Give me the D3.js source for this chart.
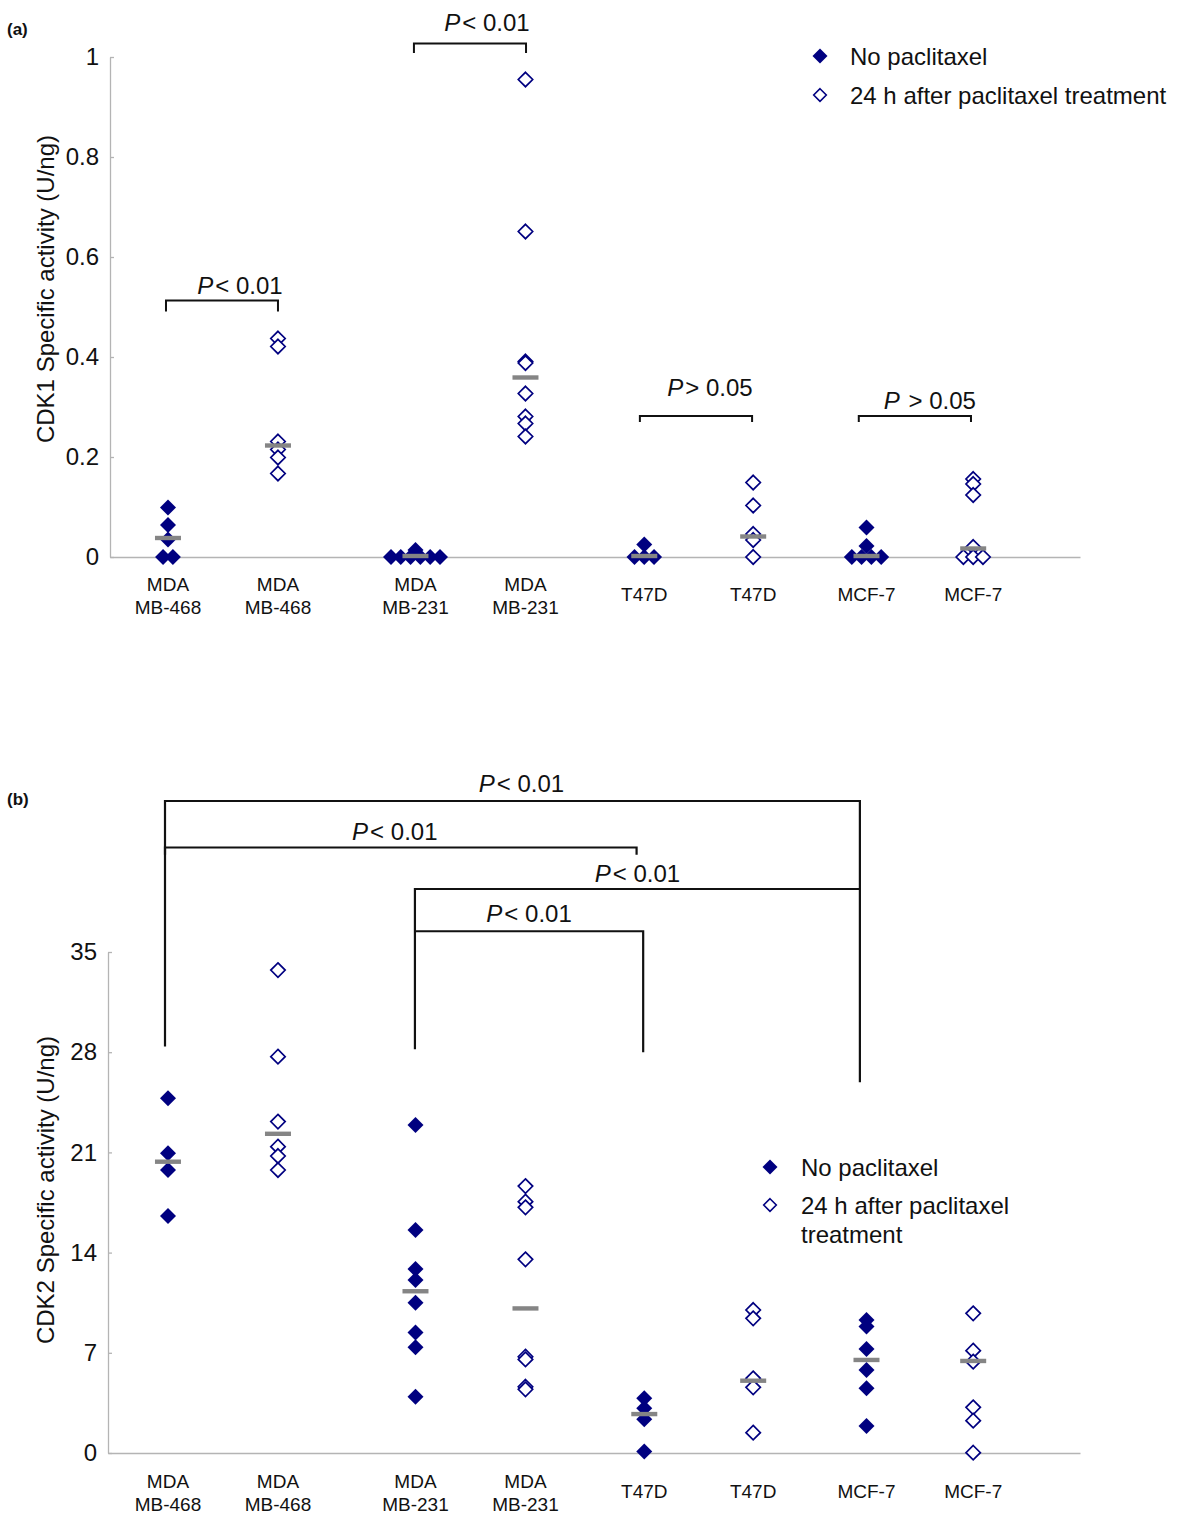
<!DOCTYPE html>
<html>
<head>
<meta charset="utf-8">
<script src="https://cdn.jsdelivr.net/npm/d3@7"></script>
<style>
  html, body { margin: 0; padding: 0; background: #fff; }
  svg { display: block; font-family: "Liberation Sans", Arial, sans-serif; }
</style>
</head>
<body>
<svg id="chart" width="1200" height="1526"></svg>
<script>
// ---------------- DATA ----------------
const categoryLines = [
  ["MDA", "MB-468"], ["MDA", "MB-468"],
  ["MDA", "MB-231"], ["MDA", "MB-231"],
  ["T47D"], ["T47D"],
  ["MCF-7"], ["MCF-7"]
];
const categoryPos = [1, 2, 3.25, 4.25, 5.33, 6.32, 7.35, 8.32];
const categoryTreated = [false, true, false, true, false, true, false, true];

// Panel (a): CDK1 specific activity (U/ng)
const cdk1Values = [
  [0.099, 0.064, 0.035, 0, 0],
  [0.437, 0.421, 0.231, 0.215, 0.199, 0.167],
  [0.014, 0, 0, 0, 0, 0, 0],
  [0.955, 0.651, 0.391, 0.388, 0.327, 0.281, 0.267, 0.241],
  [0.025, 0, 0, 0],
  [0.149, 0.103, 0.046, 0.034, 0],
  [0.059, 0.022, 0, 0, 0, 0],
  [0.156, 0.146, 0.124, 0.02, 0, 0, 0]
];
const cdk1Medians = [0.038, 0.223, 0.002, 0.359, 0.002, 0.041, 0.002, 0.017];
const cdk1Ticks = [0, 0.2, 0.4, 0.6, 0.8, 1];
const cdk1TickLabels = ["0", "0.2", "0.4", "0.6", "0.8", "1"];

// Panel (b): CDK2 specific activity (U/ng)
const cdk2Values = [
  [24.78, 20.94, 19.77, 16.56],
  [33.74, 27.69, 23.15, 21.4, 20.75, 19.77],
  [22.91, 15.58, 12.85, 12.09, 10.5, 8.41, 7.38, 3.93],
  [18.65, 17.56, 17.16, 13.53, 6.73, 6.54, 4.63, 4.45],
  [3.82, 3.12, 2.35, 0.1],
  [9.99, 9.41, 5.22, 4.59, 1.42],
  [9.29, 8.83, 7.27, 5.8, 4.52, 1.89],
  [9.76, 7.15, 6.38, 3.19, 2.26, 0.02]
];
const cdk2Medians = [20.35, 22.3, 11.3, 10.1, 2.72, 5.05, 6.5, 6.43];
const cdk2Ticks = [0, 7, 14, 21, 28, 35];
const cdk2TickLabels = ["0", "7", "14", "21", "28", "35"];

const legendLabels = ["No paclitaxel", "24 h after paclitaxel treatment"];

// significance brackets: x in category-axis units, y in data units
const cdk1Brackets = [
  { x1: 0.982, x2: 2.0, top: 0.513, leg1: 0.491, leg2: 0.491, rel: "<", p: "0.01", dx: 18, dy: -7 },
  { x1: 3.236, x2: 4.255, top: 1.027, leg1: 1.008, leg2: 1.008, rel: "<", p: "0.01", dx: 17, dy: -13 },
  { x1: 5.29, x2: 6.31, top: 0.282, leg1: 0.27, leg2: 0.27, rel: ">", p: "0.05", dx: 14, dy: -20 },
  { x1: 7.28, x2: 8.30, top: 0.282, leg1: 0.27, leg2: 0.27, rel: "\u00a0>", p: "0.05", dx: 15, dy: -7 }
];
const cdk2Brackets = [
  { x1: 0.973, x2: 7.29, top: 45.55, leg1: 28.4, leg2: 25.9, rel: "<", p: "0.01", dx: 9, dy: -9 },
  { x1: 0.973, x2: 5.26, top: 42.3, leg1: 41.8, leg2: 41.8, rel: "<", p: "0.01", dx: -6, dy: -8 },
  { x1: 3.245, x2: 7.29, top: 39.4, leg1: 28.2, leg2: 39.4, rel: "<", p: "0.01", dx: 0, dy: -7 },
  { x1: 3.245, x2: 5.32, top: 36.45, leg1: 36.45, leg2: 28.0, rel: "<", p: "0.01", dx: 0, dy: -9 }
];

// ---------------- DRAWING ----------------
const svg = d3.select("#chart");
const NAVY = "#000080";
const FONT = "'Liberation Sans', Arial, sans-serif";

const xScale = d3.scaleLinear().domain([0.473, 9.291]).range([110, 1080]);

function diamond(r) {
  return `M0,${-r}L${r},0L0,${r}L${-r},0Z`;
}

function drawPanel(cfg) {
  const g = svg.append("g");
  const y = d3.scaleLinear().domain(cfg.yDomain).range(cfg.yRange);
  const axisX = cfg.axisX;
  const x = xScale.copy().range([axisX, 1080]).domain([xScale.invert(axisX), xScale.domain()[1]]);

  // y axis
  const yAxis = d3.axisLeft(y)
    .tickValues(cfg.ticks)
    .tickFormat((d, i) => cfg.tickLabels[i])
    .tickSizeInner(-4)
    .tickSizeOuter(0)
    .tickPadding(11);
  const ya = g.append("g").attr("transform", `translate(${axisX},0)`).call(yAxis);
  ya.select(".domain").attr("stroke", "#b4b4b4").attr("stroke-width", 1.3);
  ya.selectAll(".tick line").attr("stroke", "#b4b4b4").attr("stroke-width", 1.3);
  ya.selectAll(".tick text").attr("font-size", 24).attr("font-family", FONT).attr("fill", "#111");

  // x axis line
  const xAxis = d3.axisBottom(x).tickValues([]).tickSizeOuter(0);
  const xa = g.append("g").attr("transform", `translate(0,${y(0)})`).call(xAxis);
  xa.select(".domain").attr("stroke", "#b4b4b4").attr("stroke-width", 1.3);

  // y title
  g.append("text")
    .attr("transform", `translate(${cfg.titleX},${cfg.titleY}) rotate(-90)`)
    .attr("text-anchor", "middle")
    .attr("font-size", 24)
    .attr("fill", "#111")
    .text(cfg.title);

  // category labels
  categoryLines.forEach((lines, i) => {
    const t = g.append("text")
      .attr("text-anchor", "middle")
      .attr("font-size", 19)
      .attr("fill", "#111");
    if (lines.length === 2) {
      lines.forEach((ln, j) => {
        t.append("tspan").attr("x", x(categoryPos[i])).attr("y", cfg.catBase + j * 23).text(ln);
      });
    } else {
      t.append("tspan").attr("x", x(categoryPos[i])).attr("y", cfg.catBase + 10).text(lines[0]);
    }
  });

  // points (exact duplicates of zero spread horizontally)
  const spacing = 9.8;
  cfg.values.forEach((vals, i) => {
    const zeros = vals.filter(v => v === 0).length;
    let zi = 0;
    vals.forEach(v => {
      let off = 0;
      if (v === 0 && zeros > 1) { off = (zi - (zeros - 1) / 2) * spacing; zi++; }
      const cx = x(categoryPos[i]) + off;
      const cy = y(v);
      if (categoryTreated[i]) {
        g.append("path").attr("d", diamond(7.2))
          .attr("transform", `translate(${cx},${cy})`)
          .attr("fill", "#fff").attr("stroke", NAVY).attr("stroke-width", 1.7);
      } else {
        g.append("path").attr("d", diamond(8))
          .attr("transform", `translate(${cx},${cy})`)
          .attr("fill", NAVY);
      }
    });
  });

  // median bars
  g.selectAll(".median").data(cfg.medians).enter().append("rect")
    .attr("x", (d, i) => x(categoryPos[i]) - 13)
    .attr("y", d => y(d) - 2.2)
    .attr("width", 26)
    .attr("height", 4.4)
    .attr("fill", "#858585");

  // brackets
  cfg.brackets.forEach(b => {
    const x1 = x(b.x1), x2 = x(b.x2), yt = y(b.top);
    g.append("path")
      .attr("d", `M${x1},${y(b.leg1)}L${x1},${yt}L${x2},${yt}L${x2},${y(b.leg2)}`)
      .attr("fill", "none").attr("stroke", "#111").attr("stroke-width", cfg.bracketWidth);
    const t = g.append("text")
      .attr("x", (x1 + x2) / 2 + b.dx)
      .attr("y", yt + b.dy)
      .attr("text-anchor", "middle")
      .attr("font-size", 24)
      .attr("fill", "#111");
    t.append("tspan").attr("font-style", "italic").text("P");
    t.append("tspan").attr("dx", 2).text(b.rel + " " + b.p);
  });

  // legend
  const L = cfg.legend;
  g.append("path").attr("d", diamond(7.5)).attr("transform", `translate(${L.mx},${L.y1})`).attr("fill", NAVY);
  g.append("path").attr("d", diamond(6.3)).attr("transform", `translate(${L.mx},${L.y2})`)
    .attr("fill", "#fff").attr("stroke", NAVY).attr("stroke-width", 1.6);
  g.append("text").attr("x", L.tx).attr("y", L.y1 + 8.5).attr("font-size", 24).attr("fill", "#111").text(legendLabels[0]);
  const t2 = g.append("text").attr("font-size", 24).attr("fill", "#111");
  L.lines2.forEach((ln, j) => {
    t2.append("tspan").attr("x", L.tx).attr("y", L.y2 + 9 + j * 29).text(ln);
  });

  // panel letter
  svg.append("text").attr("x", 7).attr("y", cfg.letterY)
    .attr("font-size", 17).attr("font-weight", "bold").attr("fill", "#111").text(cfg.letter);
}

drawPanel({
  values: cdk1Values, medians: cdk1Medians,
  yDomain: [0, 1], yRange: [557, 57],
  ticks: cdk1Ticks, tickLabels: cdk1TickLabels,
  axisX: 110, title: "CDK1 Specific activity (U/ng)", titleX: 54, titleY: 289,
  catBase: 591, brackets: cdk1Brackets, bracketWidth: 2,
  legend: { mx: 820, tx: 850, y1: 56, y2: 95, lines2: [legendLabels[1]] },
  letter: "(a)", letterY: 35
});

drawPanel({
  values: cdk2Values, medians: cdk2Medians,
  yDomain: [0, 35], yRange: [1453, 952],
  ticks: cdk2Ticks, tickLabels: cdk2TickLabels,
  axisX: 108, title: "CDK2 Specific activity (U/ng)", titleX: 54, titleY: 1190,
  catBase: 1488, brackets: cdk2Brackets, bracketWidth: 2.2,
  legend: { mx: 770, tx: 801, y1: 1167, y2: 1205, lines2: ["24 h after paclitaxel", "treatment"] },
  letter: "(b)", letterY: 805
});
</script>
</body>
</html>
